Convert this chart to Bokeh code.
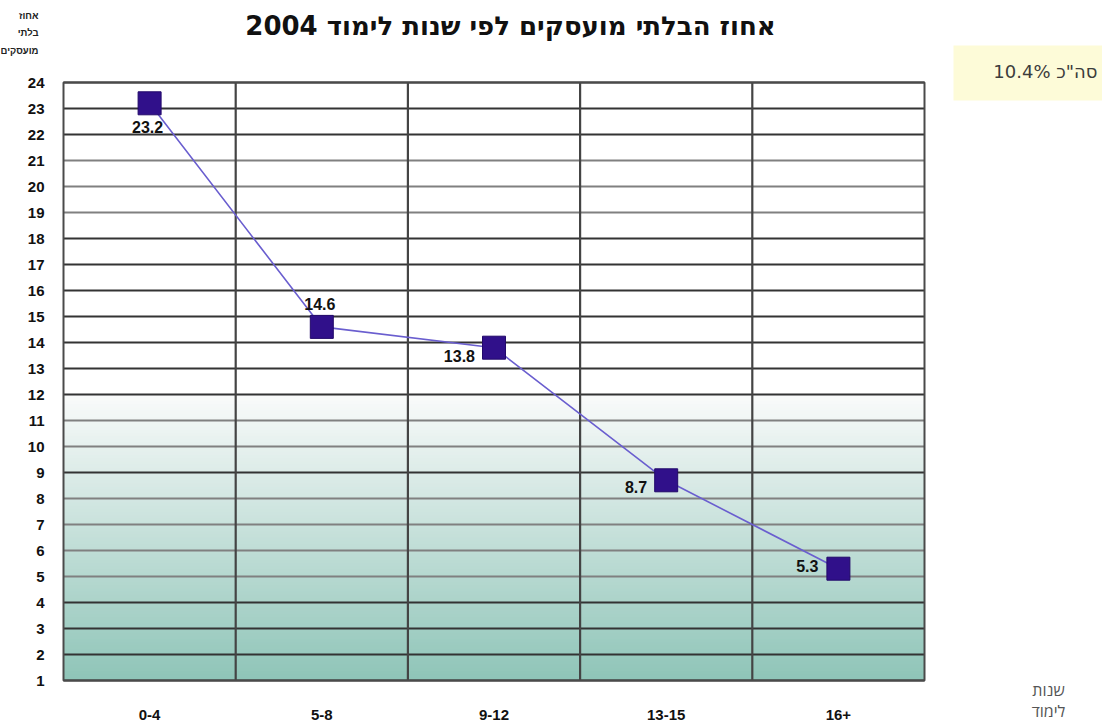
import numpy as np
from bokeh.plotting import figure
from bokeh.models import Range1d, ColumnDataSource
from bokeh.embed import file_html
from bokeh.resources import INLINE
from bokeh.core.properties import value

# ---------------- data ----------------
categories = ["0-4", "5-8", "9-12", "13-15", "16+"]
unemployment = [23.2, 14.6, 13.8, 8.7, 5.3]
y_ticks = list(range(1, 25))
title_text = "אחוז הבלתי מועסקים לפי שנות לימוד 2004"
y_title_lines = ["אחוז", "בלתי", "מועסקים"]
x_title_lines = ["שנות", "לימוד"]
total_text = "סה\"כ 10.4%"

# ---------------- styles / layout ----------------
label_dx = [-2, -2, -19, -19, -20]
label_dy = [24, -23, 8, 7, -3]
label_align = ["center", "center", "right", "right", "right"]
dark_grid = [1, 2, 3, 4, 9, 12, 13, 14, 15, 16, 17, 18, 22, 23, 24]
W, H = 1102, 724
FL, FR, FT, FB = 63, 924, 82, 680          # plot-area box in canvas pixels
n_cat = len(categories)
x0, x1 = 0, n_cat
y0, y1 = y_ticks[0], y_ticks[-1]
ux = (FR - FL) / (x1 - x0)
uy = (FB - FT) / (y1 - y0)
xr = Range1d(x0 - FL / ux, x1 + (W - FR) / ux)
yr = Range1d(y0 - (H - FB) / uy, y1 + FT / uy)


def cx(px):
    return xr.start + px / ux


def cy(py):
    return yr.end - py / uy


p = figure(width=W, height=H, output_backend="svg", toolbar_location=None,
           x_range=xr, y_range=yr, x_axis_location=None, y_axis_location=None,
           min_border=0, min_border_left=0, min_border_right=0,
           min_border_top=0, min_border_bottom=0,
           background_fill_color="white", border_fill_color="white")
p.grid.visible = False
p.outline_line_color = None

# gradient in the lower part of the plot area
n = 90
g_top = 12
edges = np.linspace(y0, g_top, n + 1)
c_bot = np.array([143, 197, 184])
c_top = np.array([250, 251, 251])
cols = []
for i in range(n):
    t = (i + 0.5) / n
    c = (c_bot * (1 - t) + c_top * t).astype(int)
    cols.append("#%02x%02x%02x" % tuple(c))
p.quad(left=x0, right=x1, bottom=edges[:-1], top=edges[1:] + 0.03,
       fill_color=cols, line_color=None)

# horizontal grid lines
g_cols = ["#333333" if t in dark_grid else "#808080" for t in y_ticks]
p.segment(x0=[x0] * len(y_ticks), x1=[x1] * len(y_ticks), y0=y_ticks, y1=y_ticks,
          line_color=g_cols, line_width=2)
# vertical separators between categories
bounds = list(range(1, n_cat))
p.segment(x0=bounds, x1=bounds, y0=[y0] * len(bounds), y1=[y1] * len(bounds),
          line_color="#444444", line_width=2.2)
# plot-area outline
p.quad(left=x0, right=x1, bottom=y0, top=y1, fill_color=None,
       line_color="#4a4a4a", line_width=2)

# tick labels
p.text(x=[x0] * len(y_ticks), y=y_ticks, text=[str(t) for t in y_ticks],
       x_offset=-19, text_align="right", text_baseline="middle",
       text_font=value("Liberation Sans"), text_font_style="bold",
       text_font_size="15px", text_color="#111111")
xs = [i + 0.5 for i in range(n_cat)]
p.text(x=xs, y=[y0] * n_cat, text=categories, y_offset=34,
       text_align="center", text_baseline="middle",
       text_font=value("Liberation Sans"), text_font_style="bold",
       text_font_size="15px", text_color="#111111")

# series
src = ColumnDataSource(dict(x=xs, y=unemployment,
                            lbl=["%.1f" % v for v in unemployment],
                            dx=label_dx, dy=label_dy, al=label_align))
p.line("x", "y", source=src, line_color="#6a5ecf", line_width=1.6)
p.scatter("x", "y", source=src, marker="square", size=23,
          fill_color="#30108a", line_color="#22096a", line_width=1)
p.text("x", "y", text="lbl", source=src, x_offset="dx", y_offset="dy",
       text_align="al", text_baseline="middle",
       text_font=value("Liberation Sans"), text_font_style="bold",
       text_font_size="16px", text_color="#111111")

# title
p.text(x=[cx(510)], y=[cy(25)], text=[title_text], text_align="center",
       text_baseline="alphabetic", text_font=value("DejaVu Sans"),
       text_font_style="bold", text_font_size="26px", text_color="#111111")

# y-axis title (top-left)
p.text(x=[cx(38)] * 3, y=[cy(15), cy(31.5), cy(50)], text=y_title_lines,
       text_align="right", text_baseline="middle",
       text_font=value("Liberation Sans"), text_font_style="bold",
       text_font_size="9.5px", text_color="#222222")

# total box
p.quad(left=cx(953), right=cx(W), bottom=cy(100), top=cy(45),
       fill_color="#fdfbd8", line_color=None)
p.text(x=[cx(1097)], y=[cy(71)], text=[total_text], text_align="right",
       text_baseline="middle", text_font=value("DejaVu Sans"),
       text_font_size="18px", text_color="#3c3c3c")

# x-axis title (bottom-right)
p.text(x=[cx(1048)] * 2, y=[cy(689), cy(710)], text=x_title_lines,
       text_align="center", text_baseline="middle",
       text_font=value("Open Sans"), text_font_size="16px", text_color="#555555")

open("out.html", "w").write(file_html(p, INLINE))
